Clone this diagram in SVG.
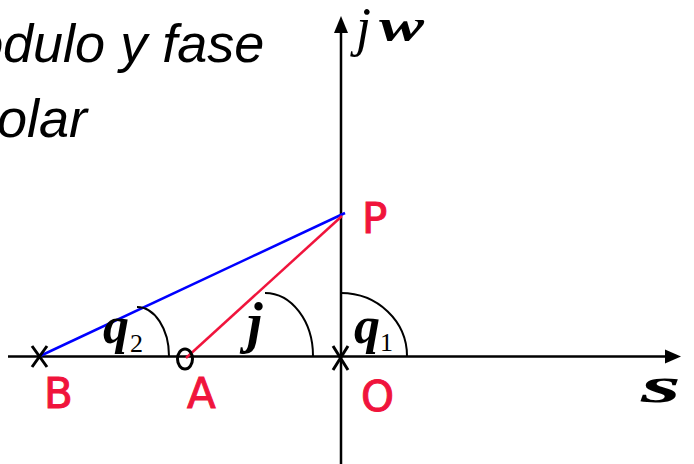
<svg xmlns="http://www.w3.org/2000/svg" width="694" height="464" viewBox="0 0 694 464">
<defs>
<style>
.ax{stroke:#000;stroke-width:2.5;fill:none}
.mk{stroke:#000;stroke-width:3;fill:none}
.arc{stroke:#000;stroke-width:2;fill:none}
.lbl{font-family:"DejaVu Sans",sans-serif;font-size:42px;fill:#f0143c;stroke:#f0143c;stroke-width:1}
.ttl{font-family:"Liberation Sans",Arial,sans-serif;font-style:italic;font-size:54px;fill:#000}
.gk{font-family:"Liberation Serif","Times New Roman",serif;font-style:italic;font-weight:bold;fill:#000}
.sub{font-family:"Liberation Serif","Times New Roman",serif;font-size:26px;fill:#000}
</style>
</defs>
<rect width="694" height="464" fill="#fff"/>
<g id="title">
<text class="ttl" x="-27" y="62">ódulo y fase</text>
<text class="ttl" x="-3" y="137">olar</text>
</g>
<g id="axes">
<line class="ax" x1="8" y1="356.5" x2="668" y2="356.5"/>
<polygon points="681,356.5 665,349.5 665,363.5" fill="#000"/>
<line class="ax" x1="341" y1="464" x2="341" y2="30"/>
<polygon points="341,16 334,33 348,33" fill="#000"/>
<text x="356" y="45" font-family="Liberation Serif,serif" font-style="italic" font-size="54">j</text>
<text class="gk" x="379" y="41" font-size="46" textLength="45" lengthAdjust="spacingAndGlyphs">w</text>
<text class="gk" x="641" y="402" font-size="50" textLength="40" lengthAdjust="spacingAndGlyphs">s</text>
</g>
<g id="connectors">
<line x1="40" y1="356" x2="345" y2="213" stroke="#0000ff" stroke-width="2.5"/>
<line x1="186" y1="358" x2="342" y2="216" stroke="#f0143c" stroke-width="2.5"/>
</g>
<g id="angles">
<path class="arc" d="M137,307 A32,49 0 0 1 169,356"/>
<path class="arc" d="M265,293 A48,63 0 0 1 313,356"/>
<path class="arc" d="M341,293 A66,63 0 0 1 407,356"/>
<text class="gk" x="103" y="343" font-size="52">q</text>
<text class="sub" x="130" y="352">2</text>
<text class="gk" x="247" y="342" font-size="56">j</text>
<text class="gk" x="354" y="343" font-size="52">q</text>
<text class="sub" x="380" y="351">1</text>
</g>
<g id="node-B">
<path class="mk" d="M32,346 L47,367 M47,346 L32,367"/>
<text class="lbl" x="44" y="408">B</text>
</g>
<g id="node-A">
<ellipse cx="185" cy="359" rx="7.5" ry="10" class="mk"/>
<text class="lbl" x="187" y="408">A</text>
</g>
<g id="node-O">
<path class="mk" d="M333,346 L348,370 M348,346 L333,370"/>
<text class="lbl" x="361" y="411">O</text>
</g>
<g id="node-P">
<text class="lbl" x="362" y="233">P</text>
</g>
</svg>
